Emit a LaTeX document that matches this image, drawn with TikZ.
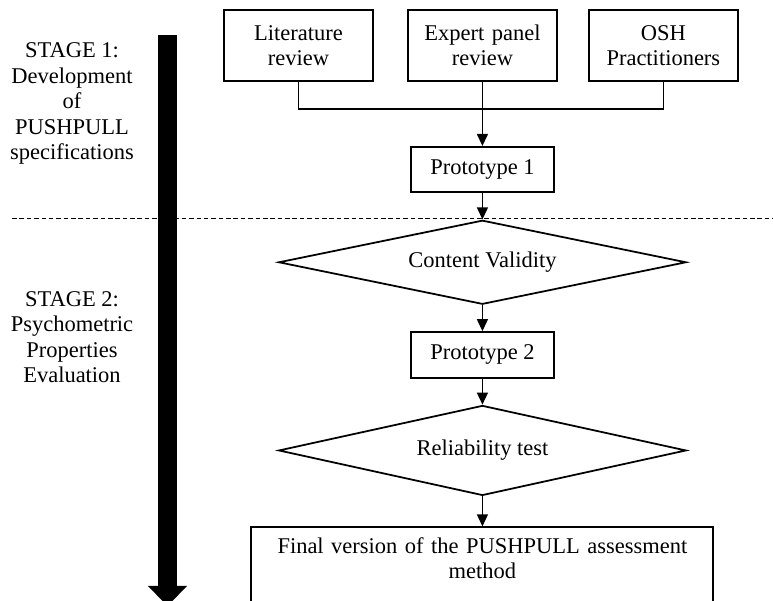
\documentclass[tikz,border=0pt]{standalone}
\usepackage{fontspec}
\setmainfont{Liberation Serif}
\usetikzlibrary{positioning,shapes.geometric,arrows.meta}

\begin{document}
\begin{tikzpicture}[
    font=\fontsize{12.8}{14.5}\selectfont,
    box/.style={
        draw, rectangle, line width=1.1pt,
        text width=2.7cm, align=center, minimum height=1.42cm, minimum width=2.98cm
    },
    protobox/.style={draw, rectangle, line width=1.1pt, minimum width=2.87cm, minimum height=0.91cm},
    check/.style={draw, diamond, aspect=5, line width=1pt, minimum width=8.15cm, inner sep=0pt},
    arrow/.style={-{Triangle[length=0.24cm,width=0.22cm]}, line width=0.8pt},
    stage/.style={align=center}
]
\useasboundingbox (0,0) rectangle (15.46,-12.02);

% separation between the two stages
\coordinate (dashL) at (0.24,-4.36);
\coordinate (dashR) at (15.46,-4.36);
\draw[line width=0.5pt, dash pattern=on 2.6pt off 1.6pt] (dashL) -- (dashR);

% big timeline arrow
\coordinate (stagetop) at (3.35,-0.7);
\coordinate (stagebot) at (3.35,-12.12);
\draw[line width=0.38cm, -{Triangle[width=0.76cm,length=0.4cm]}] (stagetop) -- (stagebot);

% stage labels
\node[stage] (stage1) at (1.44,-2.07) {STAGE 1:\\Development\\of\\PUSHPULL\\specifications};
\node[stage] (stage2) at (1.44,-6.74) {STAGE 2:\\Psychometric\\Properties\\Evaluation};

% first row: sources
\node[box] (lit) at (5.97,-0.91) {Literature\\review};
\node[box, right=0.66cm of lit] (expert) {Expert panel\\review};
\node[box, right=0.6cm of expert] (osh) {OSH\\Practitioners};

% the flow
\node[protobox, below=1.28cm of expert] (proto1) {Prototype 1};
\node[check, minimum height=1.68cm, below=0.52cm of proto1] (content) {Content Validity};
\node[protobox, below=0.52cm of content] (proto2) {Prototype 2};
\node[check, minimum height=1.8cm, below=0.52cm of proto2] (reliab) {Reliability test};
\node[draw, rectangle, line width=1.1pt, inner xsep=0pt, inner ysep=0.2cm,
    text width=9.24cm, align=center, text depth=1.4cm, below=0.6cm of reliab]
    (final) {Final version of the PUSHPULL assessment\\method};

% connectors
\coordinate[below=0.54cm of expert] (join);
\draw[line width=0.8pt] (lit.south) |- (join) -| (osh.south);
\draw[arrow] (expert.south) -- (proto1.north);
\draw[arrow] (proto1.south) -- (content.north);
\draw[arrow] (content.south) -- (proto2.north);
\draw[arrow] (proto2.south) -- (reliab.north);
\draw[arrow] (reliab.south) -- (final.north);

\end{tikzpicture}
\end{document}
